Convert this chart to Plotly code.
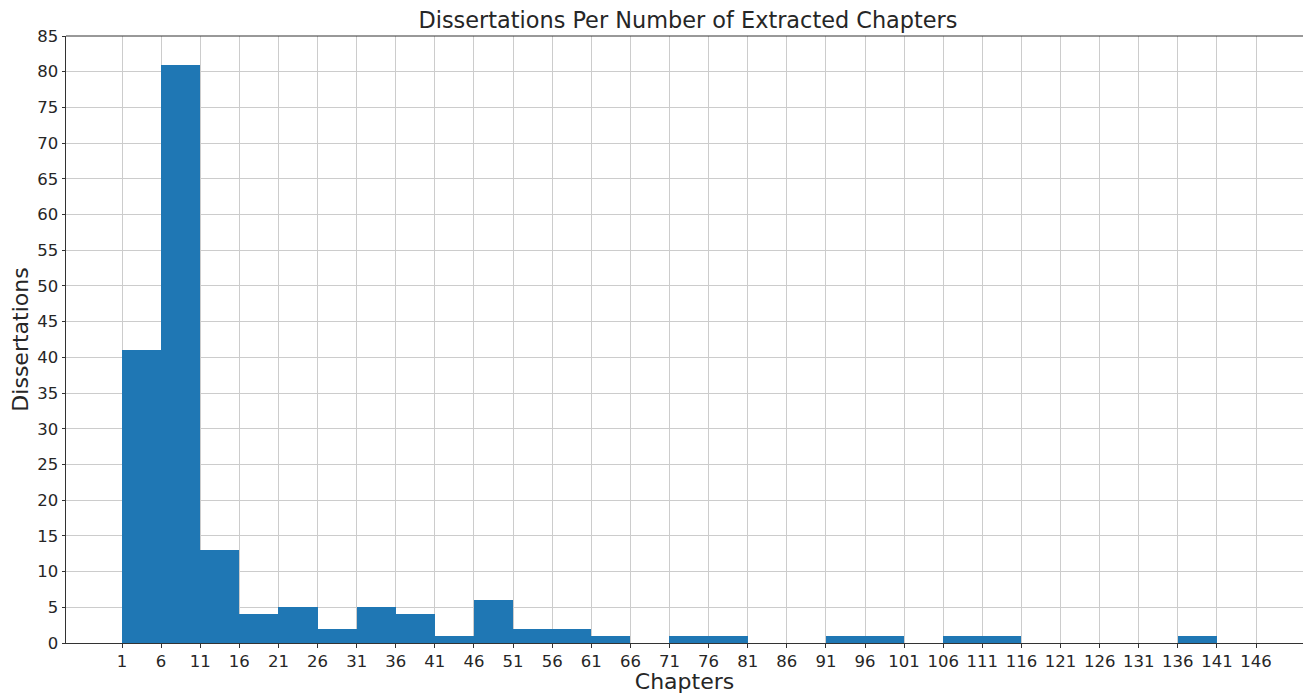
import plotly.graph_objects as go

bin_starts = list(range(1, 146, 5))
counts = [41, 81, 13, 4, 5, 2, 5, 4, 1, 6, 2, 2, 1, 0, 1, 1, 0, 0, 1, 1, 0, 1, 1, 0, 0, 0, 0, 1, 0]
bin_width = 5
x_tick_vals = list(range(1, 147, 5))
y_tick_vals = list(range(0, 86, 5))

font_family = "DejaVu Sans"
text_color = "#262626"
grid_color = "#cccccc"

fig = go.Figure()
fig.add_trace(go.Bar(
    x=bin_starts[:len(counts)],
    y=counts,
    width=bin_width,
    offset=0,
    marker=dict(color="#1f77b4", line=dict(width=0)),
    hoverinfo="x+y",
))

fig.update_layout(
    width=1303,
    height=694,
    margin=dict(l=66, r=0, t=36, b=51, autoexpand=False),
    paper_bgcolor="white",
    plot_bgcolor="white",
    bargap=0,
    showlegend=False,
    font=dict(family=font_family, color=text_color, size=16.5),
    title=dict(
        text="Dissertations Per Number of Extracted Chapters",
        x=0.528, xanchor="center",
        y=1 - 20 / 694, yanchor="middle", yref="container",
        font=dict(size=22.4, family=font_family, color=text_color),
    ),
    xaxis=dict(
        range=[-6.16, 152.0],
        tickmode="array",
        tickvals=x_tick_vals,
        ticktext=[str(v) for v in x_tick_vals],
        showgrid=True,
        gridcolor=grid_color,
        gridwidth=1,
        showline=True,
        linecolor="#333333",
        linewidth=1,
        ticks="outside",
        ticklen=3.5,
        tickcolor="#333333",
        zeroline=False,
        layer="above traces",
        automargin=False,
        tickfont=dict(size=16.5),
        title=dict(text="Chapters", font=dict(size=22), standoff=3),
    ),
    yaxis=dict(
        range=[0, 85],
        tickmode="array",
        tickvals=y_tick_vals,
        showgrid=True,
        gridcolor=grid_color,
        gridwidth=1,
        showline=True,
        linecolor="#333333",
        linewidth=1,
        ticks="outside",
        ticklen=3.5,
        tickcolor="#333333",
        zeroline=False,
        layer="above traces",
        automargin=False,
        tickfont=dict(size=16.5),
        title=dict(text="Dissertations", font=dict(size=22), standoff=2),
    ),
    shapes=[dict(
        type="line", xref="paper", yref="paper",
        x0=0, x1=1, y0=1, y1=1,
        line=dict(color="#333333", width=1),
    )],
)

fig.write_html("out.html", config={"displayModeBar": False})

with open("out.html", "r", encoding="utf-8") as f:
    html = f.read()
html = html.replace("<body>", '<body style="margin:0;padding:0;overflow:hidden">', 1)
with open("out.html", "w", encoding="utf-8") as f:
    f.write(html)
